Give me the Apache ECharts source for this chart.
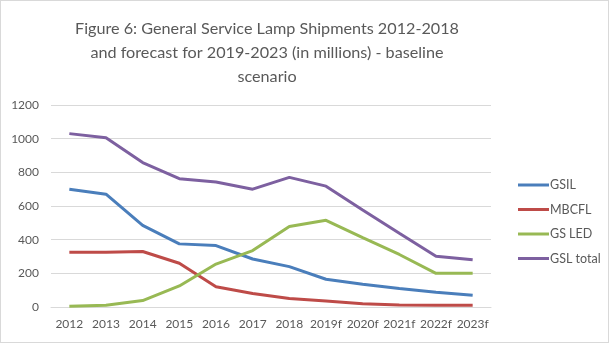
<!DOCTYPE html>
<html><head><meta charset="utf-8">
<script src="https://cdn.jsdelivr.net/npm/echarts@6/dist/echarts.min.js"></script>
<style>html,body{margin:0;padding:0;background:#fff}#c{width:609px;height:343px;box-sizing:border-box;border:1px solid #d9d9d9}</style>
</head><body><div id="c"></div>
<script>
const categories = ['2012','2013','2014','2015','2016','2017','2018','2019f','2020f','2021f','2022f','2023f'];
const gsil = [700, 670, 485, 375, 365, 285, 240, 165, 135, 110, 88, 70];
const mbcfl = [325, 325, 330, 260, 120, 80, 50, 35, 20, 12, 10, 10];
const gsled = [5, 10, 38, 125, 255, 335, 478, 515, 412, 312, 200, 200];
const gsltotal = [1030, 1005, 858, 762, 742, 700, 770, 718, 576, 438, 302, 280];
const yTicks = [0, 200, 400, 600, 800, 1000, 1200];

const chart = echarts.init(document.getElementById('c'));
const font = 'Lato, "Open Sans", "Liberation Sans", sans-serif';
function s(name, data, color) {
  return { name, type: 'line', data, symbol: 'none', lineStyle: { width: 3, color }, itemStyle: { color } };
}
chart.setOption({
  animation: false,
  title: {
    text: 'Figure 6: General Service Lamp Shipments 2012-2018\nand forecast for 2019-2023 (in millions) - baseline\nscenario',
    left: 261, textAlign: 'center', top: 11,
    textStyle: { fontFamily: font, fontSize: 16.2, fontWeight: 'normal', color: '#595959', lineHeight: 24 }
  },
  legend: {
    orient: 'vertical', left: 512, top: 172, itemGap: 10.5, itemWidth: 31, itemHeight: 3,
    icon: 'rect',
    textStyle: { fontFamily: font, fontSize: 12.5, lineHeight: 14, color: '#595959', padding: [0,0,0,-4] },
    data: ['GSIL', 'MBCFL', 'GS LED', 'GSL total']
  },
  grid: { left: 50, right: 117, top: 104, bottom: 35 },
  xAxis: {
    type: 'category', data: categories, boundaryGap: true,
    axisLine: { lineStyle: { color: '#d9d9d9' } }, axisTick: { show: false },
    axisLabel: { fontFamily: font, fontSize: 12, color: '#595959', margin: 11, interval: 0 }
  },
  yAxis: {
    type: 'value', min: yTicks[0], max: yTicks[yTicks.length - 1], interval: 200,
    axisLabel: { fontFamily: font, fontSize: 12, color: '#595959', margin: 12, formatter: v => String(v) },
    splitLine: { lineStyle: { color: '#d9d9d9' } }
  },
  series: [
    s('GSIL', gsil, '#4A7EBB'),
    s('MBCFL', mbcfl, '#BE4B48'),
    s('GS LED', gsled, '#98B954'),
    s('GSL total', gsltotal, '#7D60A0')
  ]
});
</script></body></html>
